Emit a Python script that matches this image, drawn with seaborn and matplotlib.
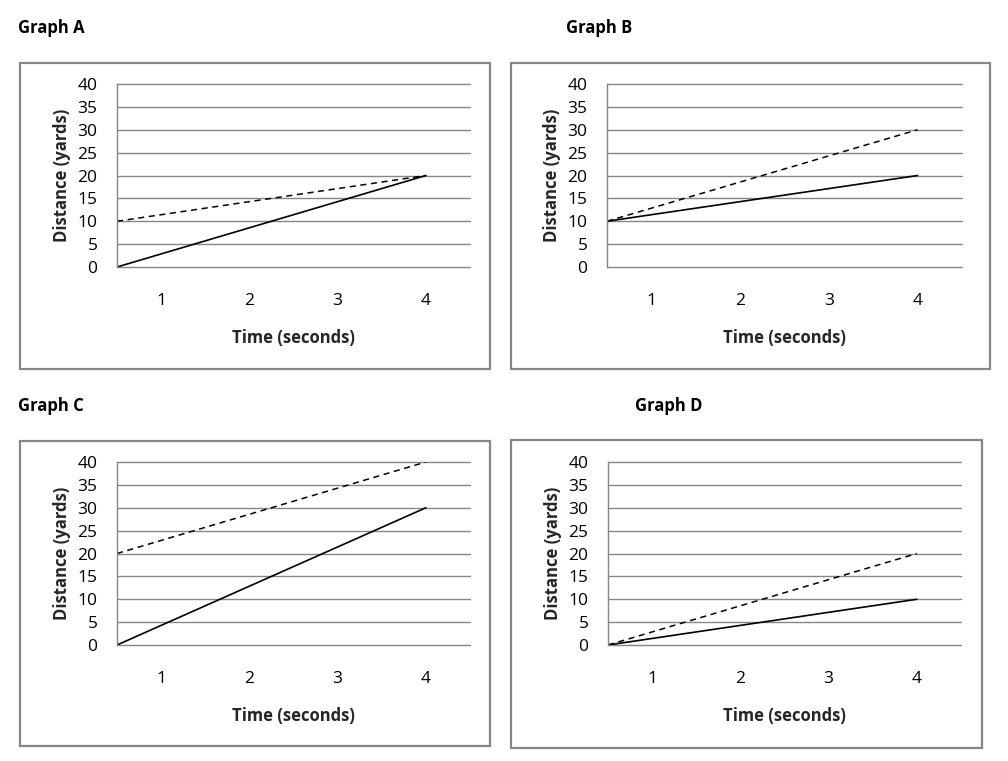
import matplotlib
matplotlib.use("Agg")
import matplotlib.pyplot as plt
import seaborn as sns
import pandas as pd
from matplotlib.patches import Rectangle

sns.set_theme(style="white")
plt.rcParams['font.family'] = ['Open Sans', 'DejaVu Sans']

# Data
graphs = ["Graph A", "Graph B", "Graph C", "Graph D"]
time_points = [0.5, 4]
solid_A = [0, 20]
dashed_A = [10, 20]
solid_B = [10, 20]
dashed_B = [10, 30]
solid_C = [0, 30]
dashed_C = [20, 40]
solid_D = [0, 10]
dashed_D = [0, 20]
x_ticks = [1, 2, 3, 4]
y_ticks = [0, 5, 10, 15, 20, 25, 30, 35, 40]

series = {
    "Graph A": (solid_A, dashed_A),
    "Graph B": (solid_B, dashed_B),
    "Graph C": (solid_C, dashed_C),
    "Graph D": (solid_D, dashed_D),
}

W, H = 1008, 761
fig = plt.figure(figsize=(W / 100, H / 100), dpi=100)

# layout in pixels: (plot left, plot right, plot top, plot bottom), box (l, r, t, b), title (x, y)
layout = {
    "Graph A": ((117, 470, 84, 267), (20, 490, 63, 369), (18, 28)),
    "Graph B": ((607, 962, 84, 267), (511, 990, 63, 369), (566, 28)),
    "Graph C": ((117, 470, 462, 645), (20, 490, 441, 746), (18, 406)),
    "Graph D": ((608, 961, 462, 645), (511, 982, 440, 748), (635, 406)),
}

grey = "#868686"
for g in graphs:
    (pl, pr, pt, pb), (bl, br, bt, bb), (tx, ty) = layout[g]
    # box
    fig.add_artist(Rectangle((bl / W, 1 - bb / H), (br - bl) / W, (bb - bt) / H,
                             transform=fig.transFigure, fill=False,
                             edgecolor=grey, linewidth=1.6))
    fig.text(tx / W, 1 - ty / H, g, fontsize=12, fontweight="bold",
             ha="left", va="center", color="black")
    ax = fig.add_axes([pl / W, 1 - pb / H, (pr - pl) / W, (pb - pt) / H])
    s, d = series[g]
    df_s = pd.DataFrame({"t": time_points, "y": s})
    df_d = pd.DataFrame({"t": time_points, "y": d})
    sns.lineplot(data=df_d, x="t", y="y", ax=ax, color="black", linewidth=1.1,
                 linestyle=(0, (4, 3)))
    sns.lineplot(data=df_s, x="t", y="y", ax=ax, color="black", linewidth=1.2)
    ax.set_xlim(0.5, 4.5)
    ax.set_ylim(0, 40)
    ax.set_yticks(y_ticks)
    ax.set_xticks(x_ticks)
    ax.set_xticklabels([str(v) for v in x_ticks])
    ax.yaxis.grid(True, color=grey, linewidth=1)
    for gl in ax.get_ygridlines():
        gl.set_clip_on(False)
    ax.set_axisbelow(True)
    for sp in ["top", "right", "bottom"]:
        ax.spines[sp].set_visible(False)
    ax.spines["left"].set_color(grey)
    ax.spines["left"].set_linewidth(1)
    ax.tick_params(axis="both", length=0, labelsize=12.5, colors="black")
    ax.tick_params(axis="x", pad=19)
    ax.tick_params(axis="y", pad=14)
    ax.set_xlabel("Time (seconds)", fontsize=12, fontweight="bold", labelpad=14)
    ax.set_ylabel("Distance (yards)", fontsize=12, fontweight="bold", labelpad=5)

fig.savefig("out.png", dpi=100, facecolor="white")
